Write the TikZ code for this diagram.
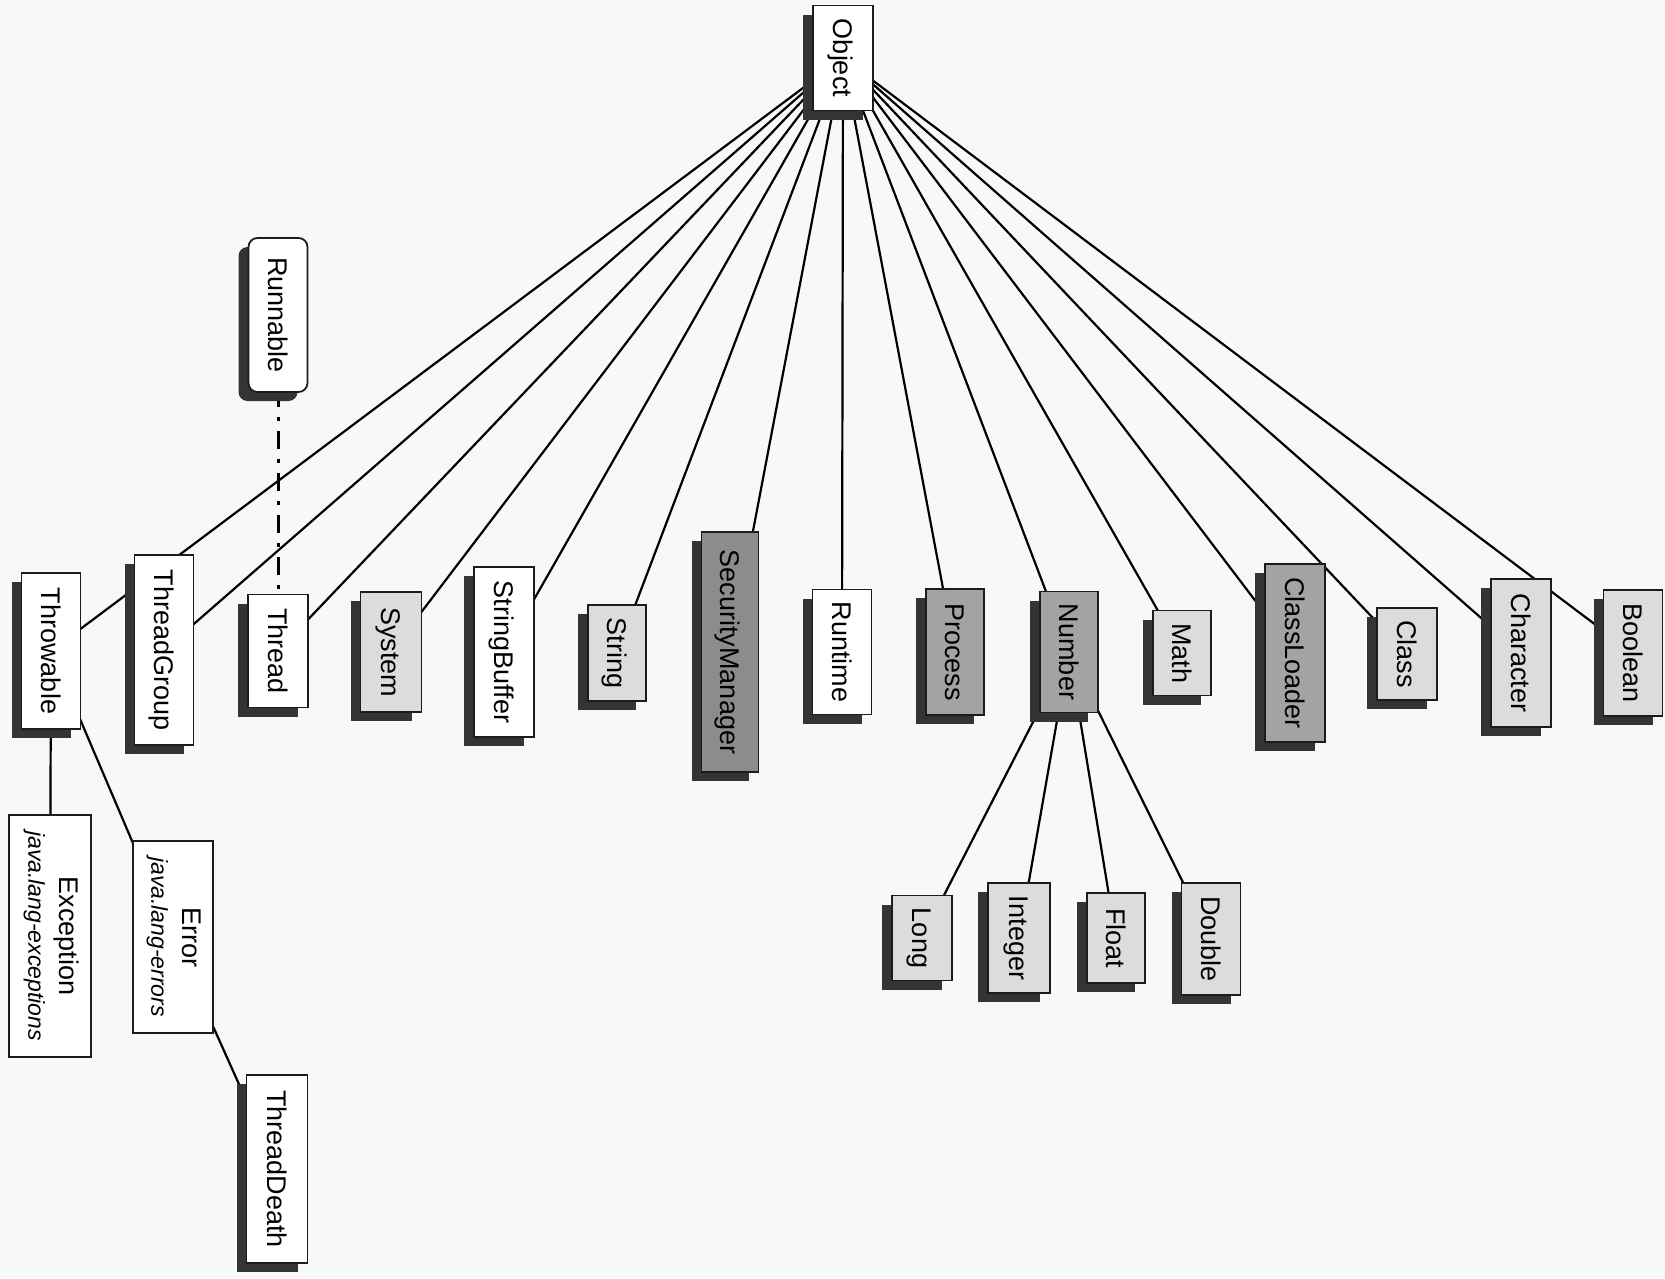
\documentclass[tikz,border=0pt]{standalone}
\usepackage{graphicx}
\usepackage{fontspec}
\setmainfont{Liberation Sans}
\usetikzlibrary{shadows}
\definecolor{bgc}{RGB}{246,249,246}
\definecolor{shc}{RGB}{52,52,52}
\definecolor{lightc}{RGB}{220,220,220}
\definecolor{midc}{RGB}{163,163,163}
\definecolor{darkc}{RGB}{140,140,140}
\definecolor{edgec}{RGB}{28,28,28}
\pgfdeclarelayer{bglayer}
\pgfdeclarelayer{linelayer}
\pgfsetlayers{bglayer,linelayer,main}
\newcommand{\vtext}[1]{\rotatebox{-90}{\raisebox{0pt}[0.72em][0pt]{#1}}}
\newcommand{\subfnt}{\fontsize{23}{25}\selectfont\itshape}
\tikzset{
  cls/.style={draw=edgec, line width=1.8pt, fill=white, inner sep=0pt,
    font=\fontsize{27}{31}\selectfont, text=black},
  shd/.style={drop shadow={shadow xshift=-10pt, shadow yshift=-9pt, fill=shc, opacity=1}},
  light/.style={fill=lightc},
  mid/.style={fill=midc},
  dark/.style={fill=darkc},
  conn/.style={draw=black, line width=2.2pt},
  iface/.style={draw=black, line width=3pt, dash pattern=on 4pt off 10pt on 18pt off 10pt, dash phase=18pt}
}
\begin{document}
\begin{tikzpicture}[x=1pt,y=-1pt]
\useasboundingbox (0,0) rectangle (1665,1278);
\begin{pgfonlayer}{bglayer}
  \fill[bgc] (0,0) rectangle (1665,1278);
\end{pgfonlayer}

% root
\node[cls,shd,minimum width=60pt,minimum height=105pt] (obj) at (843,58) {\vtext{Object}};
\node[cls,shd,rounded corners=9pt,minimum width=59pt,minimum height=154pt] (runnable) at (278,315) {\vtext{Runnable}};

% first row
\node[cls,shd,minimum width=59pt,minimum height=156pt] (throwable) at (51,651) {\vtext{Throwable}};
\node[cls,shd,minimum width=59pt,minimum height=190pt] (threadgroup) at (164,650) {\vtext{ThreadGroup}};
\node[cls,shd,minimum width=60pt,minimum height=113pt] (thread) at (278,651) {\vtext{Thread}};
\node[cls,shd,light,minimum width=61pt,minimum height=120pt] (system) at (391,652) {\vtext{System}};
\node[cls,shd,minimum width=60pt,minimum height=170pt] (stringbuffer) at (504,652) {\vtext{StringBuffer}};
\node[cls,shd,light,minimum width=58pt,minimum height=96pt] (string) at (617,653) {\vtext{String}};
\node[cls,shd,dark,minimum width=57pt,minimum height=240pt] (securitymanager) at (730,652) {\vtext{SecurityManager}};
\node[cls,shd,minimum width=59pt,minimum height=125pt] (runtime) at (842,652) {\vtext{Runtime}};
\node[cls,shd,mid,minimum width=58pt,minimum height=126pt] (process) at (955,652) {\vtext{Process}};
\node[cls,shd,mid,minimum width=58pt,minimum height=121pt] (number) at (1069,652) {\vtext{Number}};
\node[cls,shd,light,minimum width=58pt,minimum height=85pt] (math) at (1182,653) {\vtext{Math}};
\node[cls,shd,mid,minimum width=60pt,minimum height=178pt] (classloader) at (1295,653) {\vtext{ClassLoader}};
\node[cls,shd,light,minimum width=60pt,minimum height=92pt] (class) at (1407,654) {\vtext{Class}};
\node[cls,shd,light,minimum width=60pt,minimum height=148pt] (character) at (1521,653) {\vtext{Character}};
\node[cls,shd,light,minimum width=59pt,minimum height=126pt] (boolean) at (1633,653) {\vtext{Boolean}};

% Number subclasses
\node[cls,shd,light,minimum width=60pt,minimum height=85pt] (long) at (922,938) {\vtext{Long}};
\node[cls,shd,light,minimum width=62pt,minimum height=110pt] (integer) at (1019,938) {\vtext{Integer}};
\node[cls,shd,light,minimum width=58pt,minimum height=90pt] (float) at (1116,938) {\vtext{Float}};
\node[cls,shd,light,minimum width=59pt,minimum height=112pt] (double) at (1211,939) {\vtext{Double}};

% Throwable subclasses
\node[cls,minimum width=82pt,minimum height=242pt] (exception) at (50,936)
  {\rotatebox{-90}{\begin{tabular}{@{}c@{}}Exception\\{\subfnt java.lang-exceptions}\end{tabular}}};
\node[cls,minimum width=80pt,minimum height=192pt] (error) at (173,937)
  {\rotatebox{-90}{\begin{tabular}{@{}c@{}}Error\\{\subfnt java.lang-errors}\end{tabular}}};
\node[cls,shd,minimum width=61pt,minimum height=188pt] (threaddeath) at (277,1169) {\vtext{ThreadDeath}};

\begin{pgfonlayer}{linelayer}
  \foreach \n in {throwable,threadgroup,thread,system,stringbuffer,string,securitymanager,runtime,process,number,math,classloader,class,character,boolean}
    \draw[conn] (obj.center) -- (\n.center);
  \foreach \n in {long,integer,float,double}
    \draw[conn] (number.center) -- (\n.center);
  \draw[conn] (throwable.center) -- (exception.center);
  \draw[conn] (throwable.center) -- (error.center);
  \draw[conn] (error.center) -- (threaddeath.center);
  \draw[iface] (runnable.south) -- (thread.north);
\end{pgfonlayer}
\end{tikzpicture}
\end{document}
